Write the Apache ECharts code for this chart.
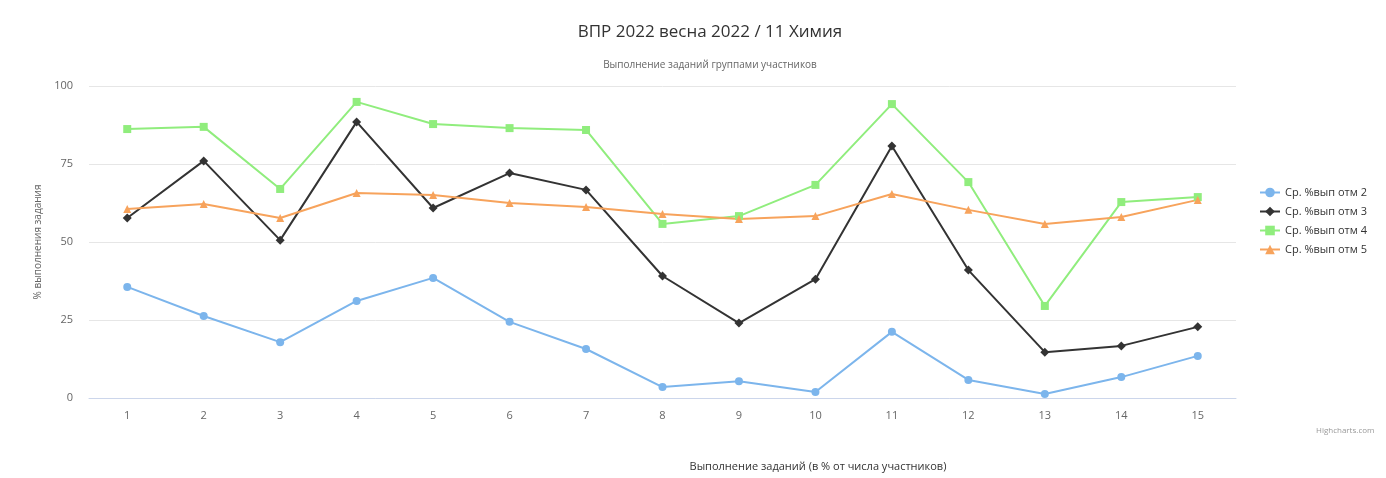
<!DOCTYPE html>
<html>
<head>
<meta charset="utf-8">
<script src="https://cdn.jsdelivr.net/npm/echarts@6/dist/echarts.min.js"></script>
<style>
  html, body { margin: 0; padding: 0; background: #fff; }
  #chart { width: 1386px; height: 478px; }
</style>
</head>
<body>
<div id="chart"></div>
<script>
const tasks = ['1', '2', '3', '4', '5', '6', '7', '8', '9', '10', '11', '12', '13', '14', '15'];
const otm2 = [35.6, 26.3, 17.9, 31.1, 38.5, 24.4, 15.7, 3.5, 5.4, 1.9, 21.2, 5.8, 1.3, 6.7, 13.5];
const otm3 = [57.7, 76.0, 50.6, 88.5, 60.9, 72.1, 66.7, 39.1, 24.0, 38.1, 80.8, 41.0, 14.7, 16.7, 22.8];
const otm4 = [86.2, 86.9, 67.0, 94.9, 87.8, 86.5, 85.9, 55.8, 58.3, 68.3, 94.2, 69.2, 29.5, 62.8, 64.4];
const otm5 = [60.6, 62.2, 57.7, 65.7, 65.1, 62.5, 61.2, 59.0, 57.4, 58.3, 65.4, 60.3, 55.8, 58.0, 63.5];

const font = '"Open Sans", "DejaVu Sans", sans-serif';
const axisText = { color: '#666666', fontSize: 11, fontFamily: font };

function lineSeries(name, data, color, symbol, size) {
  return {
    name,
    type: 'line',
    data,
    symbol,
    symbolSize: size,
    showAllSymbol: true,
    lineStyle: { color, width: 2 },
    itemStyle: { color },
    emphasis: { disabled: true },
  };
}

const chart = echarts.init(document.getElementById('chart'));
chart.setOption({
  animation: false,
  color: ['#7cb5ec', '#333333', '#90ed7d', '#f7a35c'],
  title: [
    { text: 'ВПР 2022 весна 2022 / 11 Химия', left: 705, top: 19, textAlign: 'center',
      textStyle: { color: '#333333', fontSize: 17, fontWeight: 'normal', fontFamily: font } },
    { text: 'Выполнение заданий группами участников', left: 705, top: 55, textAlign: 'center',
      textStyle: { color: '#666666', fontSize: 10, fontWeight: 'normal', fontFamily: font } },
    { text: 'Выполнение заданий (в % от числа участников)', left: 813, top: 456, textAlign: 'center',
      textStyle: { color: '#333333', fontSize: 11, fontWeight: 'normal', fontFamily: font } },
    { text: 'Highcharts.com', left: 1311, top: 422,
      textStyle: { color: '#999999', fontSize: 8, fontWeight: 'normal', fontFamily: font } },
  ],
  legend: {
    orient: 'vertical',
    left: 1254,
    top: 182,
    itemGap: 8,
    itemWidth: 20,
    itemHeight: 12,
    textStyle: { color: '#333333', fontSize: 11, fontFamily: font },
  },
  grid: { left: 89, right: 150, top: 86, bottom: 80 },
  xAxis: {
    type: 'category',
    data: tasks,
    boundaryGap: true,
    axisLine: { lineStyle: { color: '#ccd6eb' } },
    axisTick: { show: false },
    axisLabel: Object.assign({ margin: 12 }, axisText),
  },
  yAxis: {
    type: 'value',
    min: 0,
    max: 100,
    interval: 25,
    name: '% выполнения задания',
    nameLocation: 'middle',
    nameGap: 42,
    nameTextStyle: { color: '#666666', fontSize: 10, fontFamily: font },
    axisLabel: Object.assign({ margin: 16 }, axisText),
    splitLine: { lineStyle: { color: '#e6e6e6' } },
  },
  series: [
    lineSeries('Ср. %вып отм 2', otm2, '#7cb5ec', 'circle', 8),
    lineSeries('Ср. %вып отм 3', otm3, '#333333', 'diamond', 9),
    lineSeries('Ср. %вып отм 4', otm4, '#90ed7d', 'rect', 8),
    lineSeries('Ср. %вып отм 5', otm5, '#f7a35c', 'triangle', 8),
  ],
});
</script>
</body>
</html>
